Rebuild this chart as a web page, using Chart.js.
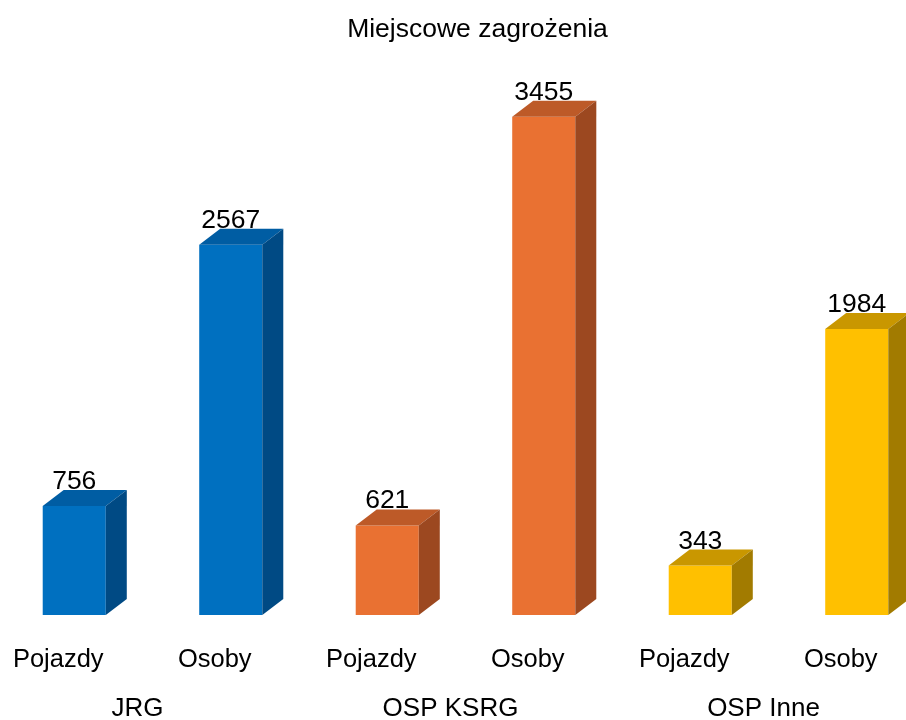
<!DOCTYPE html>
<html>
<head>
<meta charset="utf-8">
<script src="https://cdn.jsdelivr.net/npm/chart.js@4.4.1/dist/chart.umd.min.js"></script>
<style>
  html, body { margin: 0; padding: 0; background: #fff; overflow: hidden; width: 906px; height: 720px; }
  #wrap { position: absolute; left: -4px; top: 0; }
</style>
</head>
<body>
<div id="wrap"><canvas id="chart" width="962" height="725"></canvas></div>
<script>
const subLabels = ['Pojazdy', 'Osoby', 'Pojazdy', 'Osoby', 'Pojazdy', 'Osoby'];
const groupLabels = ['JRG', 'OSP KSRG', 'OSP Inne'];
const values = [756, 2567, 621, 3455, 343, 1984];

const frontColors = ['#0070C0', '#0070C0', '#E97132', '#E97132', '#FFC000', '#FFC000'];
const topColors = ['#005DA3', '#005DA3', '#BD5A28', '#BD5A28', '#C99700', '#C99700'];
const sideColors = ['#004A84', '#004A84', '#9C4820', '#9C4820', '#A27B00', '#A27B00'];

const FONT = 'Arial, "Liberation Sans", sans-serif';
const DX = 21, DY = 16;

// rysuje boki i gore slupkow (efekt 3D) oraz etykiety wartosci
const bars3d = {
    id: 'bars3d',
    afterDatasetsDraw(chart) {
        const ctx = chart.ctx;
        const meta = chart.getDatasetMeta(0);
        ctx.save();
        meta.data.forEach((bar, i) => {
            const {x, y, base, width} = bar.getProps(['x', 'y', 'base', 'width'], true);
            const l = x - width / 2, r = x + width / 2;

            ctx.fillStyle = topColors[i];
            ctx.beginPath();
            ctx.moveTo(l, y);
            ctx.lineTo(l + DX, y - DY);
            ctx.lineTo(r + DX, y - DY);
            ctx.lineTo(r, y);
            ctx.closePath();
            ctx.fill();

            ctx.fillStyle = sideColors[i];
            ctx.beginPath();
            ctx.moveTo(r, y);
            ctx.lineTo(r + DX, y - DY);
            ctx.lineTo(r + DX, base - DY);
            ctx.lineTo(r, base);
            ctx.closePath();
            ctx.fill();

            ctx.fillStyle = '#000';
            ctx.font = '26.5px ' + FONT;
            ctx.textAlign = 'center';
            ctx.textBaseline = 'alphabetic';
            ctx.fillText(String(values[i]), x, y - DY - 1);
        });
        ctx.restore();
    },
    afterLayout(chart) {
        // tytul jest wysrodkowany wzgledem calego obrazka, nie obszaru wykresu
        chart.titleBlock.left += 12;
        chart.titleBlock.right += 12;
    }
};

new Chart(document.getElementById('chart'), {
    type: 'bar',
    data: {
        labels: subLabels,
        datasets: [{
            data: values,
            backgroundColor: frontColors,
            borderWidth: 0,
            categoryPercentage: 1,
            barPercentage: 0.403
        }]
    },
    options: {
        responsive: false,
        animation: false,
        layout: { padding: { left: 0, right: 23, top: 0, bottom: 0 } },
        plugins: {
            legend: { display: false },
            tooltip: { enabled: false },
            title: {
                display: true,
                text: 'Miejscowe zagrożenia',
                color: '#000',
                font: { family: FONT, size: 26.5, weight: 'normal', lineHeight: 1.2 },
                padding: { top: 14, bottom: 21.2 }
            }
        },
        scales: {
            x: {
                weight: 0,
                offset: true,
                grid: { display: false, drawTicks: false },
                border: { display: false },
                ticks: {
                    color: '#000',
                    font: { family: FONT, size: 25.5, lineHeight: 1.2 },
                    padding: 30,
                    labelOffset: -16,
                    maxRotation: 0,
                    autoSkip: false
                },
                afterFit(scale) { scale.height = 60; }
            },
            x2: {
                type: 'category',
                position: 'bottom',
                weight: 1,
                labels: groupLabels,
                offset: true,
                grid: { display: false, drawTicks: false },
                border: { display: false },
                ticks: {
                    color: '#000',
                    font: { family: FONT, size: 26, lineHeight: 1.2 },
                    padding: 18,
                    labelOffset: -15,
                    maxRotation: 0,
                    autoSkip: false
                },
                afterFit(scale) { scale.height = 50; }
            },
            y: {
                display: false,
                min: 0,
                max: 3800
            }
        }
    },
    plugins: [bars3d]
});
</script>
</body>
</html>
